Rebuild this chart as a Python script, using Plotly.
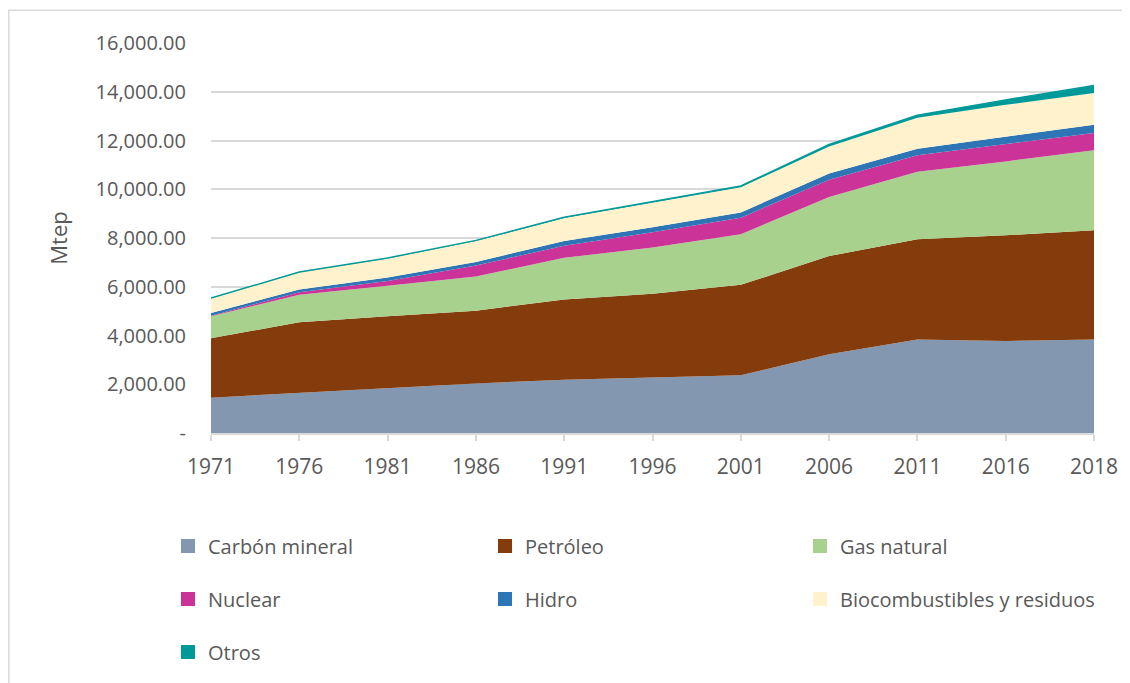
"""Consumo mundial de energía primaria por fuente (Mtep), áreas apiladas."""

import plotly.graph_objects as go

years = ['1971', '1976', '1981', '1986', '1991', '1996',
         '2001', '2006', '2011', '2016', '2018']

carbon = [1450, 1640, 1832, 2035, 2186, 2280, 2374, 3228, 3839, 3773, 3839]
petroleo = [2440, 2907, 2959, 2984, 3290, 3432, 3704, 4031, 4111, 4341, 4478]
gas = [895, 1124, 1246, 1401, 1710, 1900, 2076, 2418, 2769, 3029, 3285]
nuclear = [29, 100, 203, 447, 500, 620, 680, 716, 674, 720, 707]
hidro = [104, 120, 138, 150, 190, 210, 215, 250, 270, 297, 340]
bio = [612, 700, 787, 860, 940, 1010, 1030, 1110, 1270, 1302, 1302]
otros = [6, 10, 15, 25, 35, 45, 55, 80, 100, 204, 310]

y_tickvals = [0, 2000, 4000, 6000, 8000, 10000, 12000, 14000, 16000]
y_ticktext = ['-', '2,000.00', '4,000.00', '6,000.00', '8,000.00',
              '10,000.00', '12,000.00', '14,000.00', '16,000.00']

# name, values, colour, legend column
series = [
    ('Carbón mineral', carbon, '#8497B0', 'legend'),
    ('Petróleo', petroleo, '#843C0C', 'legend2'),
    ('Gas natural', gas, '#A9D18E', 'legend3'),
    ('Nuclear', nuclear, '#CC3399', 'legend'),
    ('Hidro', hidro, '#2E75B6', 'legend2'),
    ('Biocombustibles y residuos', bio, '#FFF2CC', 'legend3'),
    ('Otros', otros, '#009999', 'legend'),
]

GRAY = '#595959'
GRID = '#D9D9D9'
FONT = 'Open Sans, Liberation Sans, sans-serif'

fig = go.Figure()

# stacked areas
for name, vals, color, _ in series:
  is_top = name == 'Otros'
  fig.add_trace(
      go.Scatter(
          x=years,
          y=vals,
          name=name,
          mode='lines',
          stackgroup='one',
          fillcolor=color,
          line=dict(color=color, width=1.5 if is_top else 0),
          showlegend=False,
          hoverinfo='skip',
      )
  )

# square swatches for the legend (one vertical legend per column)
for name, vals, color, leg in series:
  fig.add_trace(
      go.Scatter(
          x=[None],
          y=[None],
          name=name,
          mode='markers',
          marker=dict(symbol='square', size=14, color=color),
          legend=leg,
          legendgroup=name,
          showlegend=True,
      )
  )

leg_common = dict(
    orientation='v',
    traceorder='grouped',
    tracegroupgap=24,
    xanchor='left',
    yanchor='top',
    y=-0.24,
    font=dict(family=FONT, size=20, color=GRAY),
    bgcolor='rgba(0,0,0,0)',
)

# the page body has an 8px margin, so the figure is 8px smaller
fig.update_layout(
    width=1122,
    height=675,
    margin=dict(l=203, r=36, t=35, b=245),
    paper_bgcolor='white',
    plot_bgcolor='white',
    font=dict(family=FONT, color=GRAY),
    xaxis=dict(
        type='category',
        range=[0, len(years) - 1],
        showgrid=False,
        showline=True,
        linecolor=GRID,
        linewidth=1.5,
        ticks='outside',
        ticklen=6,
        tickcolor=GRID,
        tickwidth=1.5,
        ticklabelstandoff=8,
        tickfont=dict(family=FONT, size=21, color=GRAY),
        fixedrange=True,
    ),
    yaxis=dict(
        range=[0, 16000],
        tickvals=y_tickvals,
        ticktext=y_ticktext,
        showgrid=True,
        gridcolor=GRID,
        gridwidth=1.5,
        zeroline=False,
        showline=False,
        ticklabelstandoff=24,
        tickfont=dict(family=FONT, size=20, color=GRAY),
        title=dict(text='Mtep', font=dict(family=FONT, size=22, color=GRAY),
                   standoff=21),
        fixedrange=True,
    ),
    legend=dict(leg_common, x=-0.0487),
    legend2=dict(leg_common, x=0.3103),
    legend3=dict(leg_common, x=0.667),
    shapes=[
        # light frame of the chart area
        dict(type='rect', xref='paper', yref='paper',
             x0=-0.2290, x1=2, y0=-2, y1=1.084,
             line=dict(color=GRID, width=1.5), fillcolor='rgba(0,0,0,0)',
             layer='below'),
    ],
)

fig.write_html('out.html')
